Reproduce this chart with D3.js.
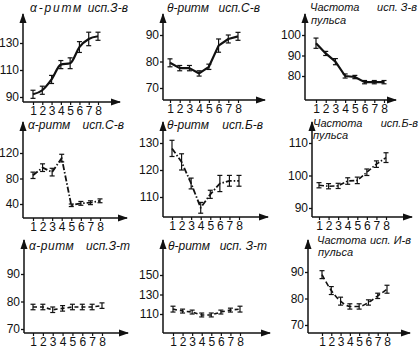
<!DOCTYPE html>
<html><head><meta charset="utf-8">
<script src="https://cdn.jsdelivr.net/npm/d3@7"></script>
<style>body{margin:0;background:#fff}svg{display:block}</style>
</head><body><svg id="c" width="420" height="350"></svg>
<script>
const xCats = [1,2,3,4,5,6,7,8];
// values per panel (row-major)
const alphaZv = [92,95,103,114,115,127,133,135];
const alphaZe = [3,3,3,3,4,4,5,3];
const thetaSv = [79.5,77.5,77.5,75.5,78,86,88.5,89.5];
const thetaSe = [1.5,1,1,1,1,2.5,1.5,1.5];
const pulseZv = [96,91,87,80,79.5,77,77,77];
const pulseZe = [2.5,1,1.5,1,0.8,0.8,0.8,0.8];
const alphaSv = [85,97,90,112,38,41,42,45];
const alphaSe = [5,6,6,6,2,3,3,3];
const thetaBv = [128,123,115,106,111,115,116,116];
const thetaBe = [3,3,2,2,1.5,3,2,2];
const pulseBv = [97,96.7,96.8,98.3,98.5,101,103.5,105.5];
const pulseBe = [0.8,0.8,0.8,1,1,1,1,1.5];
const alphaTv = [78,78,77,77.5,78,78,78,78.5];
const alphaTe = [1,1,1,1,1,1,1,1];
const thetaTv = [115,113,112,109,109,112,114,115];
const thetaTe = [3,2,2,2,2,2,2,3];
const pulseIv = [89,83,79,77,77,78.5,81,83.5];
const pulseIe = [1.5,1.5,1.5,1,1,1,1,1.5];
// tick labels
const ticks = [[90,110,130],[70,80,90],[80,90,100],[40,80,120],[110,120,130],[90,100,110],[70,80,90],[110,130,150],[70,80,90]];
const titles = [["α-ритм","","исп.З-в"],["θ-ритм","","исп.С-в"],["Частота","пульса","исп. З-в"],
                ["α-ритм","","исп.С-в"],["θ-ритм","","исп.Б-в"],["Частота","пульса","исп.Б-в"],
                ["α-ритм","","исп.З-т"],["θ-ритм","","исп. З-т"],["Частота","пульса","исп. И-в"]];
const series = [[alphaZv,alphaZe],[thetaSv,thetaSe],[pulseZv,pulseZe],[alphaSv,alphaSe],[thetaBv,thetaBe],[pulseBv,pulseBe],[alphaTv,alphaTe],[thetaTv,thetaTe],[pulseIv,pulseIe]];
// layout
const layout = [
 {ax:23,by:102,ty:14,ex:120,x1:33,x8:98,y0:97,y1:43,t1:[30,12],t3:[128,12],dash:null,w:2.2,ls:1.8,fs:12,smooth:true},
 {ax:163,by:100,ty:14,ex:265,x1:170,x8:238,y0:88,y1:35,t1:[167,12],t3:[260,12],dash:null,w:2.2,ls:0,fs:12},
 {ax:305,by:100,ty:14,ex:396,x1:316,x8:384,y0:76,y1:35,t1:[310,11],t2:[311,24],t3:[417,11],dash:null,w:2.2,ls:0,fs:11},
 {ax:23,by:218,ty:122,ex:127,x1:33,x8:100,y0:204,y1:153,t1:[28,129],t3:[124,129],dash:"6,2,1.5,2",w:1.8,ls:0,fs:12},
 {ax:163,by:217,ty:122,ex:268,x1:172,x8:239,y0:197,y1:143,t1:[167,129],t3:[263,129],dash:"6,2,1.5,2",w:1.8,ls:0,fs:12},
 {ax:312,by:217,ty:122,ex:412,x1:319,x8:386,y0:208,y1:143,t1:[313,127],t2:[313,139],t3:[418,127],dash:"5,2,1.5,2",w:1.6,ls:0,fs:11},
 {ax:24,by:333,ty:240,ex:128,x1:33,x8:102,y0:329,y1:274,t1:[29,250],t3:[130,250],dash:"4,3",w:1.6,ls:0.5,fs:12},
 {ax:163,by:333,ty:240,ex:270,x1:173,x8:240,y0:314,y1:275,t1:[168,250],t3:[267,250],dash:"4,3",w:1.6,ls:0,fs:12},
 {ax:308,by:333,ty:240,ex:410,x1:322,x8:387,y0:325,y1:272,t1:[317,244],t2:[318,256],t3:[411,244],dash:"5,3",w:1.6,ls:0,fs:11,smooth:true}
];
const svg = d3.select("#c");
const defs = svg.append("defs");
defs.append("marker").attr("id","arr").attr("viewBox","0 0 10 10").attr("refX",9).attr("refY",5)
  .attr("markerWidth",7).attr("markerHeight",7).attr("orient","auto")
  .append("path").attr("d","M0,1.5L10,5L0,8.5Z").attr("fill","#111");
const font = "'Liberation Sans', Arial, sans-serif";
const tf = "'Liberation Sans', Arial, sans-serif";
layout.forEach((L,i)=>{
  const [vals,errs] = series[i];
  const tk = ticks[i];
  const x = d3.scaleLinear().domain([1,8]).range([L.x1,L.x8]);
  const y = d3.scaleLinear().domain([tk[0],tk[2]]).range([L.y0,L.y1]);
  const g = svg.append("g");
  g.append("line").attr("x1",L.ax).attr("y1",L.by).attr("x2",L.ax).attr("y2",L.ty)
    .attr("stroke","#111").attr("stroke-width",1.5).attr("marker-end","url(#arr)");
  g.append("line").attr("x1",L.ax).attr("y1",L.by).attr("x2",L.ex).attr("y2",L.by)
    .attr("stroke","#111").attr("stroke-width",1.5).attr("marker-end","url(#arr)");
  const ya = g.append("g").attr("transform",`translate(${L.ax},0)`)
    .call(d3.axisLeft(y).tickValues(tk).tickFormat(d3.format("d")).tickSize(3).tickPadding(1));
  ya.select(".domain").remove();
  ya.selectAll("line").attr("stroke","#111").attr("stroke-width",1.3);
  ya.selectAll("text").attr("font-family",font).attr("font-size",12).attr("fill","#111");
  const xa = g.append("g").attr("transform",`translate(0,${L.by})`)
    .call(d3.axisBottom(x).tickValues(xCats).tickFormat(d3.format("d")).tickSize(3).tickPadding(1));
  xa.select(".domain").remove();
  xa.selectAll("line").attr("stroke","#111").attr("stroke-width",1.2);
  xa.selectAll("text").attr("font-family",font).attr("font-size",12).attr("fill","#111");
  const line = d3.line().x((d,j)=>x(xCats[j])).y(d=>y(d)).curve(L.smooth ? d3.curveMonotoneX : d3.curveLinear);
  g.append("path").datum(vals).attr("d",line).attr("fill","none").attr("stroke","#111")
    .attr("stroke-width",L.w).attr("stroke-dasharray",L.dash).attr("stroke-linejoin","round");
  vals.forEach((v,j)=>{
    const cx = x(xCats[j]), e = errs[j];
    const t = y(v+e), b = y(v-e);
    g.append("line").attr("x1",cx).attr("x2",cx).attr("y1",t).attr("y2",b).attr("stroke","#111").attr("stroke-width",1.2);
    [t,b].forEach(yy=>g.append("line").attr("x1",cx-2.5).attr("x2",cx+2.5).attr("y1",yy).attr("y2",yy).attr("stroke","#111").attr("stroke-width",1.2));
  });
  const T = titles[i];
  const addT=(p,s,anchor,ls)=>g.append("text").attr("x",p[0]).attr("y",p[1]).text(s).attr("text-anchor",anchor)
    .attr("letter-spacing",ls||0)
    .attr("font-family",tf).attr("font-style","italic").attr("font-size",L.fs).attr("fill","#111");
  addT(L.t1,T[0],"start",L.ls);
  if (T[1]) addT(L.t2,T[1],"start",0);
  addT(L.t3,T[2],"end",0);
});
</script></body></html>
